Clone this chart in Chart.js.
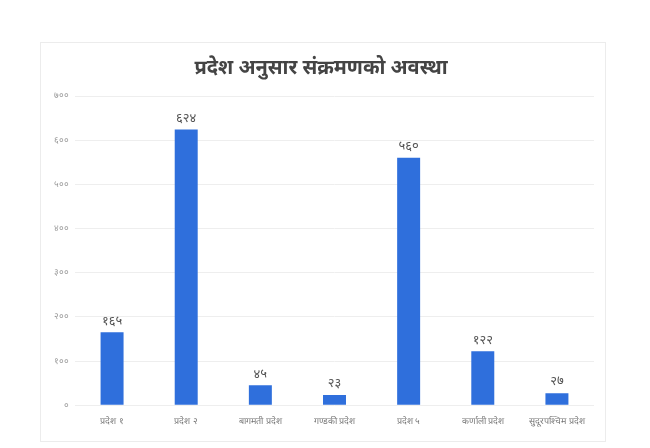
<!DOCTYPE html>
<html>
<head>
<meta charset="utf-8">
<script src="https://cdn.jsdelivr.net/npm/chart.js@4"></script>
<style>
  html, body { margin: 0; padding: 0; background: #fff; }
  #card { position: absolute; left: 40px; top: 42px; width: 566px; height: 400px; border: 1px solid #ececec; box-sizing: border-box; }
  #wrap { position: absolute; left: 0; top: 0; width: 650px; height: 448px; }
</style>
</head>
<body>
<div id="card"></div>
<div id="wrap"><canvas id="chart"></canvas></div>
<script>
const titleText = "प्रदेश अनुसार संक्रमणको अवस्था";
const provinces = ["प्रदेश १", "प्रदेश २", "बागमती प्रदेश", "गण्डकी प्रदेश", "प्रदेश ५", "कर्णाली प्रदेश", "सुदूरपश्चिम प्रदेश"];
const cases = [165, 624, 45, 23, 560, 122, 27];
const yTicks = [0, 100, 200, 300, 400, 500, 600, 700];

const devDigits = ["०", "१", "२", "३", "४", "५", "६", "७", "८", "९"];
const toDev = (n) => String(n).split("").map(d => devDigits[+d] ?? d).join("");

// draws the value above each bar
const barValues = {
  id: "barValues",
  afterDatasetsDraw(chart) {
    const ctx = chart.ctx;
    ctx.save();
    ctx.fillStyle = "#555";
    ctx.font = "13px 'Noto Sans', sans-serif";
    ctx.textAlign = "center";
    ctx.textBaseline = "bottom";
    chart.getDatasetMeta(0).data.forEach((bar, i) => {
      ctx.fillText(toDev(cases[i]), bar.x, bar.y - 5);
    });
    ctx.restore();
  }
};

new Chart(document.getElementById("chart"), {
  type: "bar",
  plugins: [barValues],
  data: {
    labels: provinces,
    datasets: [{
      data: cases,
      backgroundColor: "#2f6fdc",
      barPercentage: 0.31,
      categoryPercentage: 1
    }]
  },
  options: {
    responsive: true,
    maintainAspectRatio: false,
    animation: false,
    layout: { padding: { left: 48, right: 56, top: 56, bottom: 18 } },
    plugins: {
      legend: { display: false },
      tooltip: { enabled: false },
      title: {
        display: true,
        text: titleText,
        color: "#444",
        font: { size: 20, weight: "bold", family: "'Noto Sans', sans-serif" },
        padding: { top: 0, bottom: 16 }
      }
    },
    scales: {
      x: {
        grid: { display: false },
        border: { display: false },
        ticks: { color: "#777", font: { size: 9 }, maxRotation: 0, autoSkip: false }
      },
      y: {
        min: 0,
        max: 700,
        afterBuildTicks: (axis) => { axis.ticks = yTicks.map(v => ({ value: v })); },
        grid: { color: "#eeeeee", drawTicks: false },
        border: { display: false },
        ticks: { color: "#999", font: { size: 9 }, padding: 6, callback: (v) => toDev(v) }
      }
    }
  }
});
</script>
</body>
</html>
